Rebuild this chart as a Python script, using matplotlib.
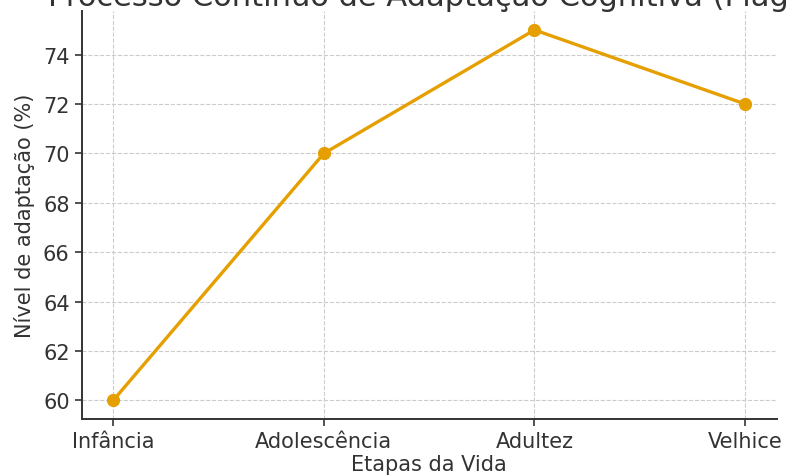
import numpy as np
import matplotlib
matplotlib.use('Agg')
import matplotlib.pyplot as plt

# --- dados ---
etapas = ['Infância', 'Adolescência', 'Adultez', 'Velhice']
adaptacao = [60, 70, 75, 72]
yticks = [60, 62, 64, 66, 68, 70, 72, 74]

plt.rcParams['font.family'] = 'DejaVu Sans'
plt.rcParams['text.color'] = '#333333'
plt.rcParams['axes.labelcolor'] = '#333333'
plt.rcParams['xtick.color'] = '#333333'
plt.rcParams['ytick.color'] = '#333333'

fig = plt.figure(figsize=(7.87, 4.77), dpi=100)
ax = fig.add_axes([0.1036, 0.1195, 0.8834, 0.8545])

x = np.arange(len(etapas))
ax.plot(x, adaptacao, marker='o', color='#E69F00', linewidth=2.4, markersize=8.5)

ax.set_xticks(x)
ax.set_xticklabels(etapas)
ax.set_yticks(yticks)
ax.tick_params(axis='both', labelsize=15, length=5, width=1.2, color='#333333')

# o título fica cortado no topo, como na imagem original
ax.set_title('Processo Contínuo de Adaptação Cognitiva (Piaget)', fontsize=22,
             pad=4.3, x=0.515)
ax.set_xlabel('Etapas da Vida', fontsize=15, labelpad=2)
ax.set_ylabel('Nível de adaptação (%)', fontsize=15, labelpad=6)

ax.grid(True, linestyle='--', linewidth=0.8, color='#cccccc')
for side in ['top', 'right']:
    ax.spines[side].set_visible(False)
for side in ['left', 'bottom']:
    ax.spines[side].set_color('#333333')
    ax.spines[side].set_linewidth(1.4)

fig.savefig('out.png', dpi=100)
